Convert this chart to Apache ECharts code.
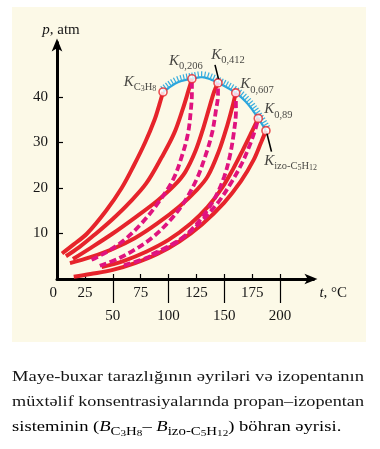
<!DOCTYPE html>
<html><head><meta charset="utf-8">
<script src="https://cdn.jsdelivr.net/npm/echarts@6/dist/echarts.min.js"></script>
<style>html,body{margin:0;padding:0;background:#fff}#c{width:380px;height:449px}</style>
</head><body><div id="c"></div>
<script>
// ---- data (t in °C, p in atm) ----
const propane = [[4.5,5.6],[15,7.6],[27,10],[44,15],[58,20],[69,25],[79,30],[87.5,35],[92,38.5],[95.1,41.1]];
const bubble206 = [[8,5],[20,7],[35,10],[50,13.2],[65,16.8],[80,21],[94,26.8],[105,32],[113,37.5],[118,41.5],[121,44]];
const dew206 = [[31,4.2],[45,6],[60,8.5],[75,12],[90,16.5],[104,21.8],[112,27],[117.5,32],[120,37],[121,41],[121,44]];
const bubble412 = [[14.3,4.4],[30,6.8],[50,10],[70,13.5],[90,17.2],[105,20.5],[115,23.5],[124,28],[131,33],[137,38],[141,41.2],[144.4,43.1]];
const dew412 = [[38.4,2.9],[55,4.5],[70,6.5],[85,9],[100,12.5],[113,16.5],[125,21.8],[133,27],[139,32],[142.5,37],[144.4,40.5],[144.4,43.1]];
const bubble607 = [[11.6,3.5],[30,4.8],[50,6.6],[70,9],[90,12.2],[110,16],[125,19.5],[135,22.5],[145,28],[153,34],[157.5,38],[160.3,40.9]];
const dew607 = [[60,3],[80,4.6],[100,7],[115,9.5],[130,13.5],[142,18],[150,22.5],[155,27],[158.5,32],[160.5,37],[160.3,40.9]];
const bubble89 = [[40,2.6],[60,4],[80,6],[100,8.6],[120,12.2],[135,15.8],[148,20],[158,24.2],[167,28.5],[175,32.5],[180.5,35.3]];
const dew89 = [[85,5.4],[100,7.2],[115,9.5],[130,12.8],[145,17],[157,21.5],[166,25.5],[173,29.5],[178,33],[180.5,35.3]];
const isopentane = [[15,0.5],[30,1.1],[50,2],[70,3.5],[90,5.5],[110,8.3],[130,12],[150,16.8],[165,21.5],[176,26],[183,30],[187.4,32.6]];
const critT = [95.1,108,121,132,144.4,160.3,171,180.5,187.4];
const critP = [41.1,43.2,44,44.3,43.1,40.9,38.5,35.3,32.6];
const kT = [95.1,121,144.4,160.3,180.5,187.4];
const kP = [41.1,44,43.1,40.9,35.3,32.6];
const kLabels = ['{k|K}{s|C}{ss|3}{s|H}{ss|8}','{k|K}{s|0,206}','{k|K}{s|0,412}','{k|K}{s|0,607}','{k|K}{s|0,89}','{k|K}{s|izo-C}{ss|5}{s|H}{ss|12}'];
const xLabelsRow1 = [0,25,75,125,175];
const xLabelsRow2 = [50,100,150,200];
const xMinorTicks = [25,50,75,100,125,150,175,200];
const yTicks = [10,20,30,40];
const captionLines = ['Maye-buxar tarazlığının əyriləri və izopentanın','müxtəlif konsentrasiyalarında propan–izopentan'];
const captionLast = '{n|sisteminin (}{b|B}{s|C}{ss|3}{s|H}{ss|8}{n|– }{b|B}{s|izo-C}{ss|5}{s|H}{ss|12}{n|) böhran əyrisi.}';

// ---- styles ----
const FONT = '"Liberation Serif","Times New Roman",serif';
const RED = '#e6242b', MAG = '#e0137f', BLUE = '#2aa5dc', HATCH = '#36ade0', INK = '#151515';
const kLabelPos = [[-2,-5,'right'],[-18,-13,'left'],[-2,-23,'left'],[9.3,-3.7,'left'],[10.7,-4.3,'left'],[3,35.3,'left']];
const GL = 57, GB = 279, XS = 1.115, YS = 4.55, XMAX = 230, YMAX = 52;

const chart = echarts.init(document.getElementById('c'), null, {renderer:'canvas'});

function solid(d){return {type:'line',data:d,smooth:0.35,symbol:'none',lineStyle:{color:RED,width:4},z:3,silent:true};}
function dashed(d){return {type:'line',data:d,smooth:0.35,symbol:'none',lineStyle:{color:MAG,width:3.8,type:[7,3.5]},z:4,silent:true};}

function catmull(pts, n){
  const out=[];
  for(let i=0;i<pts.length-1;i++){
    const p0=pts[Math.max(i-1,0)],p1=pts[i],p2=pts[i+1],p3=pts[Math.min(i+2,pts.length-1)];
    for(let j=0;j<n;j++){
      const t=j/n,t2=t*t,t3=t2*t;
      const f=(a,b,c,d)=>0.5*((2*b)+(-a+c)*t+(2*a-5*b+4*c-d)*t2+(-a+3*b-3*c+d)*t3);
      out.push([f(p0[0],p1[0],p2[0],p3[0]),f(p0[1],p1[1],p2[1],p3[1])]);
    }
  }
  out.push(pts[pts.length-1]);
  return out;
}

const richK = {
  k:{fontFamily:FONT,fontStyle:'italic',fontSize:15,lineHeight:22,color:INK},
  s:{fontFamily:FONT,fontSize:10.5,lineHeight:6,verticalAlign:'bottom',color:INK},
  ss:{fontFamily:FONT,fontSize:8,lineHeight:2,verticalAlign:'bottom',color:INK}
};

const option = {
  backgroundColor:'#ffffff',
  animation:false,
  grid:{left:GL,top:GB-YMAX*YS,width:XMAX*XS,height:YMAX*YS,containLabel:false},
  xAxis:[{
    type:'value',min:0,max:XMAX,position:'bottom',
    axisLine:{show:true,lineStyle:{color:'#000',width:3},symbol:['none','arrow'],symbolSize:[8,13],symbolOffset:[0,4]},
    axisTick:{show:true,inside:true,length:5,customValues:xMinorTicks,lineStyle:{color:'#000',width:1.2}},
    axisLabel:{show:true,customValues:xLabelsRow1,margin:7,fontFamily:FONT,fontSize:15,color:INK,alignMinLabel:'right'},
    splitLine:{show:false},
    name:'{i|t}, °C',nameLocation:'end',nameGap:6,
    nameTextStyle:{fontFamily:FONT,fontSize:15,color:INK,padding:[28,0,0,0],verticalAlign:'middle',
      rich:{i:{fontFamily:FONT,fontStyle:'italic',fontSize:15,color:INK}}}
  },{
    type:'value',min:0,max:XMAX,position:'bottom',
    axisLine:{show:false},
    axisTick:{show:true,inside:false,length:24,customValues:xLabelsRow2,lineStyle:{color:'#000',width:1.2}},
    axisLabel:{show:true,customValues:xLabelsRow2,margin:30,fontFamily:FONT,fontSize:15,color:INK},
    splitLine:{show:false}
  }],
  yAxis:{
    type:'value',min:0,max:YMAX,
    axisLine:{show:true,lineStyle:{color:'#000',width:3},symbol:['none','arrow'],symbolSize:[8,13],symbolOffset:[0,4]},
    axisTick:{show:true,inside:true,length:6,customValues:yTicks,lineStyle:{color:'#000',width:1.2}},
    axisLabel:{show:true,customValues:yTicks,margin:9,fontFamily:FONT,fontSize:15,color:INK},
    splitLine:{show:false},
    name:'{i|p}, atm',nameLocation:'end',nameGap:5,
    nameTextStyle:{fontFamily:FONT,fontSize:15,color:INK,padding:[0,0,0,8],
      rich:{i:{fontFamily:FONT,fontStyle:'italic',fontSize:15,color:INK}}}
  },
  series:[
    {type:'custom',coordinateSystem:'cartesian2d',data:[[critT[0],critP[0]]],z:2,silent:true,clip:false,
     renderItem:function(params,api){
       if(params.dataIndex!==0) return null;
       const pts=critT.map((t,i)=>api.coord([t,critP[i]]));
       const s=catmull(pts,14);
       const ch=[{type:'polyline',shape:{points:s},style:{stroke:BLUE,lineWidth:2.2,fill:null}}];
       let acc=0,next=1.5;const SP=2.9,L=6;
       for(let i=1;i<s.length;i++){
         const x0=s[i-1][0],y0=s[i-1][1],x1=s[i][0],y1=s[i][1];
         const seg=Math.hypot(x1-x0,y1-y0); if(seg<=0) continue;
         const tx=(x1-x0)/seg,ty=(y1-y0)/seg;
         while(acc+seg>=next){
           const f=(next-acc)/seg,x=x0+f*(x1-x0),y=y0+f*(y1-y0);
           ch.push({type:'line',shape:{x1:x,y1:y,x2:x+ty*L,y2:y-tx*L},style:{stroke:HATCH,lineWidth:1.2}});
           next+=SP;
         }
         acc+=seg;
       }
       return {type:'group',children:ch};
     }},
    solid(propane),solid(bubble206),solid(bubble412),solid(bubble607),solid(bubble89),solid(isopentane),
    dashed(dew206),dashed(dew412),dashed(dew607),dashed(dew89),
    {type:'scatter',z:6,symbol:'circle',symbolSize:8,silent:true,
     itemStyle:{color:'#fff',borderColor:RED,borderWidth:1.6},
     data:kT.map((t,i)=>({value:[t,kP[i]],label:{show:true,formatter:kLabels[i],position:[kLabelPos[i][0],kLabelPos[i][1]],align:kLabelPos[i][2],verticalAlign:'middle',rich:richK}}))}
  ]
};
chart.setOption(option);

// ---- background, leader lines, caption ----
const ctx=document.createElement('canvas').getContext('2d');
const CF='15px "Liberation Serif"';
function mw(t){ctx.font=CF;return ctx.measureText(t).width;}
const graphics=[{type:'rect',z:-100,silent:true,shape:{x:12,y:7,width:354,height:335},style:{fill:'#fcf9e7'}}];
const p412=chart.convertToPixel({gridIndex:0},[kT[2],kP[2]]);
const pIzo=chart.convertToPixel({gridIndex:0},[kT[5],kP[5]]);
graphics.push({type:'line',z:10,silent:true,shape:{x1:p412[0]-3,y1:p412[1]-18,x2:p412[0]+0.5,y2:p412[1]-4},style:{stroke:'#000',lineWidth:1.6}});
graphics.push({type:'line',z:10,silent:true,shape:{x1:pIzo[0]+1,y1:pIzo[1]+3,x2:pIzo[0]+5.5,y2:pIzo[1]+21},style:{stroke:'#000',lineWidth:1.6}});
const CL=12,CR=364,lineY=[377,402];
let sx1=1;
captionLines.forEach((line,li)=>{
  const sx=(CR-CL)/mw(line);
  if(li===0) sx1=sx;
  graphics.push({type:'text',x:CL,y:lineY[li],scaleX:sx,scaleY:1,originX:0,originY:0,silent:true,
    style:{text:line,fontFamily:FONT,fontSize:15,fill:INK,align:'left',verticalAlign:'middle',textAlign:'left',textVerticalAlign:'middle'}});
});
graphics.push({type:'text',x:CL,y:427,scaleX:sx1,scaleY:1,originX:0,originY:0,silent:true,style:{text:captionLast,align:'left',verticalAlign:'middle',textAlign:'left',textVerticalAlign:'middle',
  rich:{n:{fontFamily:FONT,fontSize:15,lineHeight:22,color:INK},
        b:{fontFamily:FONT,fontSize:15,fontStyle:'italic',lineHeight:22,color:INK},
        s:{fontFamily:FONT,fontSize:12,lineHeight:8,verticalAlign:'bottom',color:INK},
        ss:{fontFamily:FONT,fontSize:9,lineHeight:3,verticalAlign:'bottom',color:INK}}}});
chart.setOption({graphic:{elements:graphics}});
</script></body></html>
